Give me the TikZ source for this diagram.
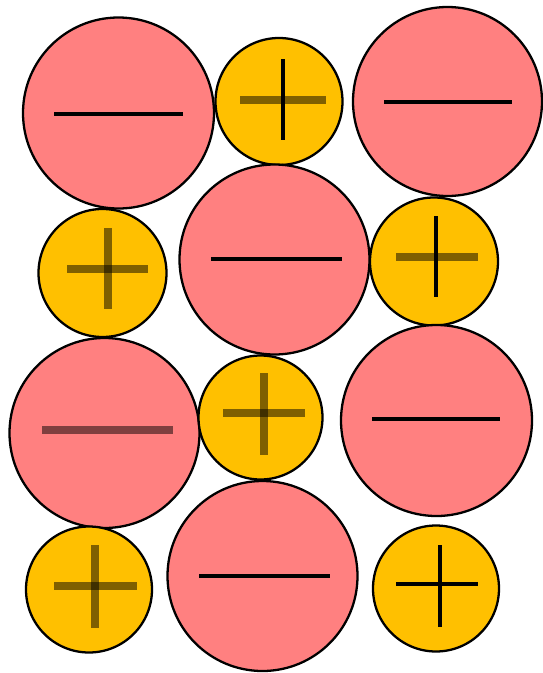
\documentclass[tikz,border=0pt]{standalone}
\usepackage{tikz}
\definecolor{cRedF}{HTML}{FF8080}
\definecolor{cAmberF}{HTML}{FFC000}
\tikzset{
  anion/.style  = {draw=black, fill=cRedF, line width=1.3pt},
  cation/.style = {draw=black, fill=cAmberF, line width=1.3pt},
  sharp/.style  = {black, line width=2.2pt},
  faint/.style  = {black, draw opacity=0.5, line width=4.4pt},
}
\begin{document}
\begin{tikzpicture}[x=0.02cm, y=-0.02cm]
  \useasboundingbox (0,0) rectangle (543,673);
  % row 1
  \draw[anion]  (118.5,113) circle (95.5);
  \draw[sharp]  (54,114) -- (183,114);
  \draw[cation] (279,101.5) circle (63.5);
  \draw[faint]  (240,100) -- (326,100);
  \draw[sharp]  (283,59) -- (283,140);
  \draw[anion]  (447.5,101.5) circle (94.5);
  \draw[sharp]  (384,102) -- (512,102);
  % row 2
  \draw[cation] (102.5,273) circle (64);
  \draw[faint]  (67,269) -- (148,269);
  \draw[faint]  (108,228) -- (108,309);
  \draw[anion]  (274.5,259.5) circle (95);
  \draw[sharp]  (211,259) -- (342,259);
  \draw[cation] (434,261.5) circle (64);
  \draw[faint]  (396,257) -- (478,257);
  \draw[sharp]  (436,216) -- (436,297);
  % row 3
  \draw[anion]  (104.5,433) circle (95);
  \draw[faint]  (42,430) -- (173,430);
  \draw[cation] (260.5,417.5) circle (62);
  \draw[faint]  (223,413) -- (305,413);
  \draw[faint]  (264,373) -- (264,455);
  \draw[anion]  (436.5,420.5) circle (95.5);
  \draw[sharp]  (372,419) -- (500,419);
  % row 4
  \draw[cation] (89,589.5) circle (63);
  \draw[faint]  (54,586) -- (137,586);
  \draw[faint]  (95,545) -- (95,628);
  \draw[anion]  (262.5,576) circle (95);
  \draw[sharp]  (199,576) -- (330,576);
  \draw[cation] (436,588.5) circle (63);
  \draw[sharp]  (396,584) -- (478,584);
  \draw[sharp]  (440,545) -- (440,627);
\end{tikzpicture}
\end{document}
